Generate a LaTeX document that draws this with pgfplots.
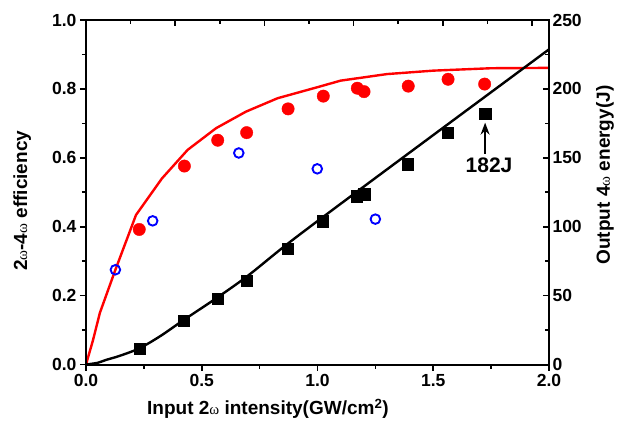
\documentclass[border=0pt]{standalone}
\usepackage{fontspec}
\setmainfont{Liberation Sans}
\newfontfamily\omfont{Liberation Serif}
\usepackage{pgfplots}
\pgfplotsset{compat=1.18}
\usetikzlibrary{arrows.meta}
\newcommand{\om}{{\omfont\mdseries\fontsize{15}{15}\selectfont ω}}
\begin{document}
\begin{tikzpicture}
\begin{axis}[
  scale only axis, width=463pt, height=344.5pt,
  xmin=0, xmax=2, ymin=0, ymax=1,
  axis line style={line width=2pt},
  xtick={0,0.5,1,1.5,2}, minor xtick={0.25,0.75,1.25,1.75},
  ytick={0,0.2,0.4,0.6,0.8,1.0}, minor ytick={0.1,0.3,0.5,0.7,0.9},
  xtick pos=bottom, ytick pos=left,
  tick align=outside,
  major tick length=6pt, minor tick length=4pt,
  tick style={line width=1.6pt, black},
  xticklabel style={/pgf/number format/.cd, fixed, fixed zerofill, precision=1, assume math mode=true},
  yticklabel style={/pgf/number format/.cd, fixed, fixed zerofill, precision=1, assume math mode=true},
  tick label style={font=\fontsize{17.5}{17.5}\selectfont\bfseries},
  xlabel={Input 2\om\ intensity(GW/cm\textsuperscript{2})},
  ylabel={2\om-4\om\ efficiency},
  label style={font=\fontsize{19}{22}\selectfont\bfseries},
  xlabel style={at={(axis description cs:0.393,-0.129)}, anchor=center},
  ylabel style={at={(axis description cs:-0.138,0.475)}, anchor=center},
]
\addplot[red, line width=2.4pt, mark=none] coordinates {
(0,0) (0.03,0.07) (0.06,0.15) (0.127,0.275) (0.216,0.434) (0.328,0.540) (0.439,0.623)
(0.562,0.686) (0.691,0.734) (0.828,0.773) (1.0,0.805) (1.1,0.824) (1.3,0.843)
(1.5,0.853) (1.75,0.860) (2.0,0.861)};
\addplot[only marks, mark=*, mark size=6.2pt, red, mark options={fill=red, draw=red}] coordinates {
(0.230,0.392) (0.425,0.576) (0.569,0.651) (0.694,0.673) (0.873,0.742) (1.025,0.779)
(1.172,0.802) (1.201,0.792) (1.392,0.808) (1.564,0.828) (1.722,0.814)};
\addplot[only marks, mark=o, mark size=4.8pt, blue, mark options={line width=1.9pt, draw=blue}] coordinates {
(0.127,0.275) (0.288,0.417) (0.660,0.614) (0.999,0.568) (1.250,0.422)};
\end{axis}
\begin{axis}[
  scale only axis, width=463pt, height=344.5pt,
  xmin=0, xmax=2, ymin=0, ymax=250,
  axis line style={line width=2pt},
  xtick={0,0.3853,0.7707,1.156,1.541,1.927}, minor xtick={0.1927,0.578,0.963,1.349,1.734},
  xticklabels={},
  xtick pos=top, ytick pos=right, yticklabel pos=right,
  ytick={0,50,100,150,200,250}, minor ytick={25,75,125,175,225},
  tick align=inside,
  major tick length=6pt, minor tick length=4pt,
  tick style={line width=1.6pt, black},
  yticklabel style={/pgf/number format/.cd, fixed, precision=0, assume math mode=true},
  tick label style={font=\fontsize{17.5}{17.5}\selectfont\bfseries},
  ylabel={Output 4\om\ energy(J)},
  label style={font=\fontsize{19}{22}\selectfont\bfseries},
  ylabel style={at={(axis description cs:1.121,0.55)}, anchor=center, rotate=0},
]
\addplot[black, line width=2.4pt, mark=none, smooth] coordinates {
(0,0) (0.05,1.2) (0.086,3.3) (0.144,6.2) (0.23,11.7) (0.32,20.5) (0.422,32.3)
(0.569,48.8) (0.7,64.5) (0.864,86.7) (1.068,112.6) (1.5,166.5) (2.0,228.7)};
\addplot[only marks, mark=square*, mark size=5.8pt, black] coordinates {
(0.232,11.5) (0.422,31.8) (0.569,47.8) (0.694,60.8) (0.871,84.0) (1.022,103.9)
(1.169,122.3) (1.202,123.7) (1.390,145.5) (1.562,168.2) (1.724,182.0)};
\draw[line width=2pt, -{Stealth[length=12pt, width=9pt]}] (axis cs:1.724,153) -- (axis cs:1.724,175.5);
\node[font=\fontsize{21}{21}\selectfont\bfseries, anchor=center] at (axis cs:1.741,144.3) {182J};
\end{axis}
\pgfresetboundingbox
\path[use as bounding box] (-86pt,-58.5pt) rectangle (534pt,364.5pt);
\end{tikzpicture}
\end{document}
